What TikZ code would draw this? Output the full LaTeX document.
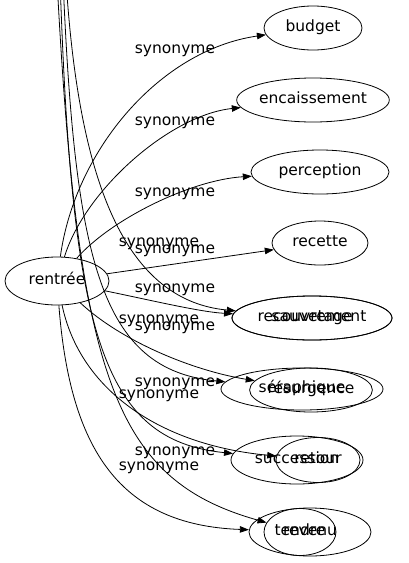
\documentclass[tikz,border=0pt]{standalone}
\usepackage{fontspec}
\setmainfont{DejaVu Sans}
\usetikzlibrary{arrows.meta,%
                shapes.geometric}
\newcommand{\motfont}{\fontsize{15.5}{18}\selectfont}
\tikzstyle{mot}=[ellipse, draw, line width=0.8pt, inner sep=0pt, minimum height=44pt, text height=11pt, text depth=3.5pt, font=\motfont]
\tikzstyle{etiquette}=[inner sep=0pt, text height=11pt, text depth=3.5pt, font=\motfont]
\tikzstyle{lien}=[line width=0.8pt, -{Triangle[length=9pt,width=6.5pt]}]

\begin{document}
\begin{tikzpicture}[x=1pt,y=-1pt]
  \useasboundingbox (0,0) rectangle (409,563);
  \clip (0,0) rectangle (409,563);
  \node[mot, minimum width=104pt, minimum height=48pt] (rentree) at (57,281) {rentrée};
  \node[mot, minimum width=98pt]  (budget) at (313,28) {budget};
  \node[mot, minimum width=152pt] (encaissement) at (313,100) {encaissement};
  \node[mot, minimum width=138pt] (perception) at (320,172) {perception};
  \node[mot, minimum width=96pt]  (recette) at (320,243) {recette};
  \node[mot, minimum width=160pt] (recouvrement) at (312,318) {recouvrement};
  \node[mot, minimum width=160pt] (sauvetage) at (312,318) {sauvetage};
  \node[mot, minimum width=162pt, minimum height=42pt] (seraphique) at (302,389) {séraphique};
  \node[mot, minimum width=115pt] (resurgence) at (311,390) {résurgence};
  \node[mot, minimum width=132pt, minimum height=48pt] (succession) at (297,460) {succession};
  \node[mot, minimum width=84pt, minimum height=45pt]  (retour) at (318,460) {retour};
  \node[mot, minimum width=122pt, minimum height=48pt] (revenu) at (310,532) {revenu};
  \node[mot, minimum width=72pt, minimum height=47pt]  (tendre) at (300,532) {tendre};

  \coordinate (haut1) at (66,-20);
  \coordinate (haut2) at (63,-20);
  \coordinate (haut3) at (60,-20);
  \coordinate (haut4) at (57,-20);

  \draw[lien] (rentree) .. controls (75,150) and (160,50) .. (budget);
  \draw[lien] (rentree) .. controls (85,190) and (170,115) .. (encaissement);
  \draw[lien] (rentree) .. controls (110,220) and (190,180) .. (perception);
  \draw[lien] (rentree) -- (recette);
  \draw[lien] (rentree) .. controls (150,300) and (200,312) .. (recouvrement);
  \draw[lien] (rentree) .. controls (120,340) and (190,370) .. (resurgence);
  \draw[lien] (rentree) .. controls (80,390) and (160,445) .. (retour);
  \draw[lien] (rentree) .. controls (70,450) and (120,525) .. (revenu);
  \draw[lien] (haut1) .. controls (78,170) and (120,300) .. (sauvetage);
  \draw[lien] (haut2) .. controls (75,260) and (100,370) .. (seraphique);
  \draw[lien] (haut3) .. controls (72,330) and (100,440) .. (succession);
  \draw[lien] (haut4) .. controls (78,380) and (115,480) .. (tendre);

  \foreach \lx/\ly [count=\i] in {175/50, 175/122, 175/193, 159/243, 175/250, 175/289,
                                  159/320, 175/327, 175/383, 159/395, 175/452, 159/467}
    \node[etiquette] (syn\i) at (\lx,\ly) {synonyme};
\end{tikzpicture}
\end{document}
